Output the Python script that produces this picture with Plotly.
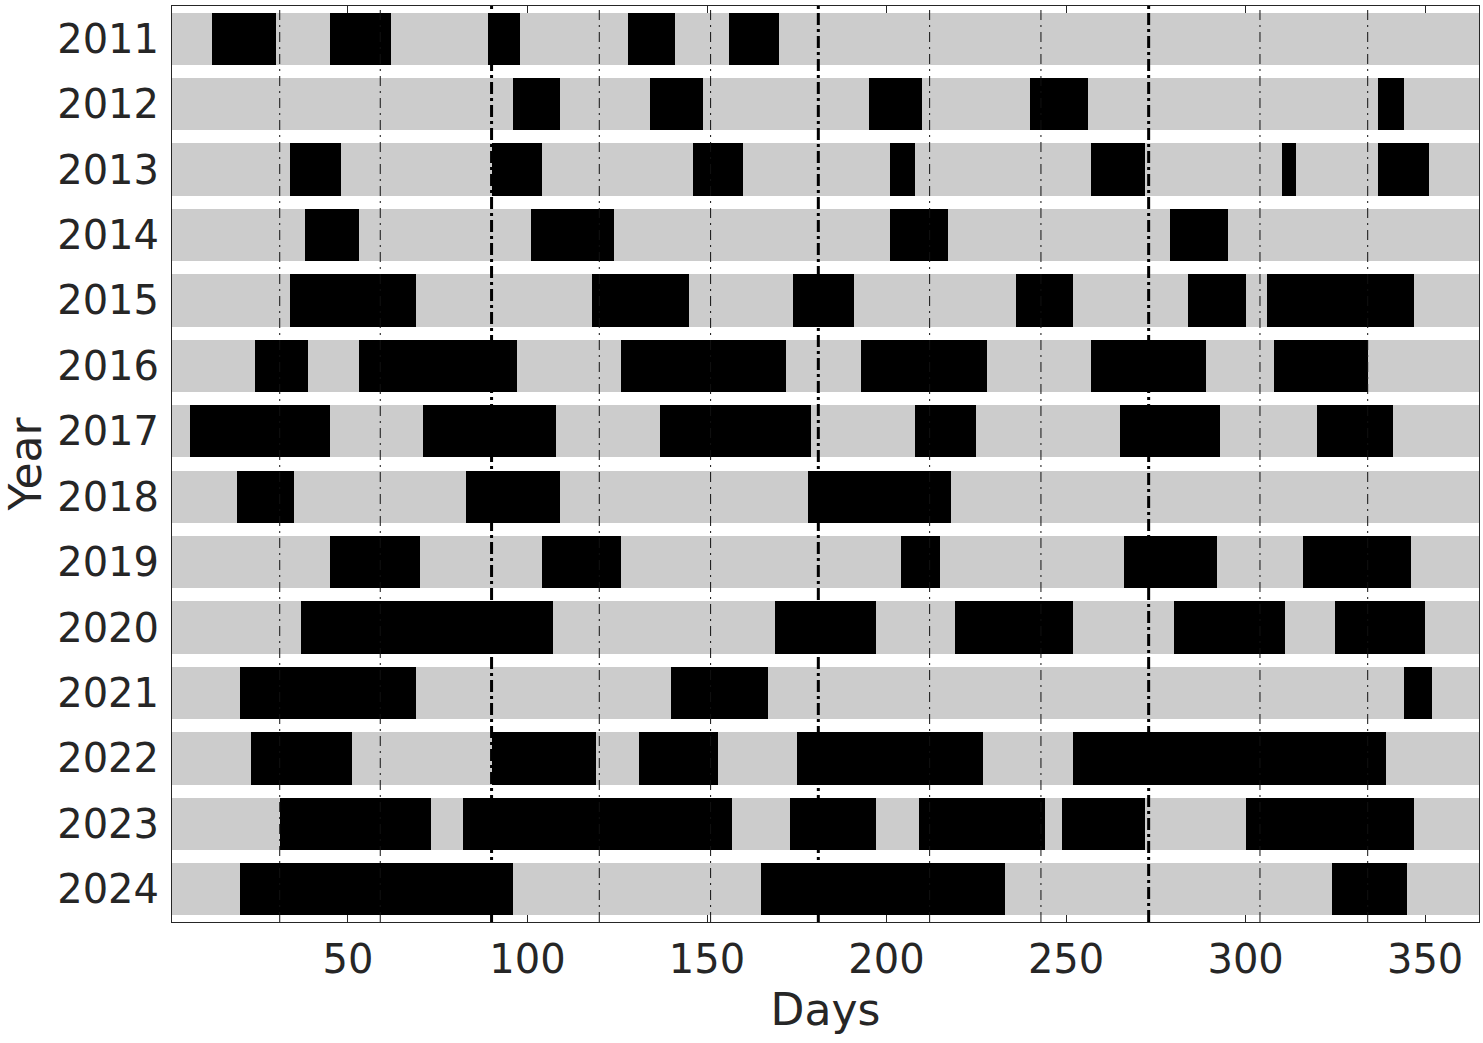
import plotly.graph_objects as go

# ---- data ----
years = [2011, 2012, 2013, 2014, 2015, 2016, 2017, 2018, 2019, 2020, 2021, 2022, 2023, 2024]

starts = [
    [12, 45, 89, 128, 156],
    [96, 134, 195, 240, 337],
    [34, 90, 146, 201, 257, 310, 337],
    [38, 101, 201, 279],
    [34, 118, 174, 236, 284, 306],
    [24, 53, 126, 193, 257, 308],
    [6, 71, 137, 208, 265, 320],
    [19, 83, 178],
    [45, 104, 204, 266, 316],
    [37, 169, 219, 280, 325],
    [20, 140, 344],
    [23, 90, 131, 175, 252],
    [31, 82, 173, 209, 249, 300],
    [20, 165, 324],
]
ends = [
    [30, 62, 98, 141, 170],
    [109, 149, 210, 256, 344],
    [48, 104, 160, 208, 272, 314, 351],
    [53, 124, 217, 295],
    [69, 145, 191, 252, 300, 347],
    [39, 97, 172, 228, 289, 334],
    [45, 108, 179, 225, 293, 341],
    [35, 109, 218],
    [70, 126, 215, 292, 346],
    [107, 197, 252, 311, 350],
    [69, 167, 352],
    [51, 119, 153, 227, 339],
    [73, 157, 197, 244, 272, 347],
    [96, 233, 345],
]

day_min, day_max = 1, 365
month_ends = [31, 59, 90, 120, 151, 181, 212, 243, 273, 304, 334]
quarter_ends = [90, 181, 273]
x_ticks = [50, 100, 150, 200, 250, 300, 350]

# ---- style ----
FONT = "DejaVu Sans"
TXT = "#262626"
GRAY = "#cccccc"

fig = go.Figure()

# background gray band per year
fig.add_trace(go.Bar(
    y=years,
    x=[day_max - day_min] * len(years),
    base=[day_min] * len(years),
    orientation="h",
    width=0.8,
    marker=dict(color=GRAY, line=dict(width=0)),
    showlegend=False,
    hoverinfo="skip",
))

# black event bars
ev_y, ev_base, ev_len = [], [], []
for yr, ss, ee in zip(years, starts, ends):
    for s, e in zip(ss, ee):
        ev_y.append(yr)
        ev_base.append(s)
        ev_len.append(e - s)

fig.add_trace(go.Bar(
    y=ev_y,
    x=ev_len,
    base=ev_base,
    orientation="h",
    width=0.8,
    marker=dict(color="#000000", line=dict(width=0)),
    showlegend=False,
))

# month boundary lines
for d in month_ends:
    if d in quarter_ends:
        fig.add_vline(x=d, line=dict(color="#000000", width=3, dash="12px,4px,3px,4px"), layer="above")
    else:
        fig.add_vline(x=d, line=dict(color="#111111", width=1, dash="10px,5px,2px,5px"), layer="above")

fig.update_layout(
    width=1483,
    height=1043,
    margin=dict(l=172, r=4, t=6, b=121),
    paper_bgcolor="white",
    plot_bgcolor="white",
    barmode="overlay",
    bargap=0,
    font=dict(family=FONT, size=40, color=TXT),
    showlegend=False,
)

fig.update_xaxes(
    automargin=False,
    range=[day_min, day_max],
    tickvals=x_ticks,
    ticktext=[str(v) for v in x_ticks],
    ticks="inside",
    ticklen=7,
    tickwidth=1,
    tickcolor=TXT,
    showline=True,
    linecolor=TXT,
    linewidth=1,
    mirror="ticks",
    showgrid=False,
    zeroline=False,
    tickfont=dict(family=FONT, size=40, color=TXT),
    ticklabelstandoff=2,
    title=dict(text="Days", font=dict(family=FONT, size=44, color=TXT), standoff=13),
)

fig.update_yaxes(
    automargin=False,
    range=[years[-1] + 0.5, years[0] - 0.5],
    tickvals=years,
    ticktext=[str(y) for y in years],
    ticks="",
    showline=True,
    linecolor=TXT,
    linewidth=1,
    mirror=True,
    showgrid=False,
    zeroline=False,
    tickfont=dict(family=FONT, size=40, color=TXT),
    ticklabelstandoff=4,
    title=dict(text="Year", font=dict(family=FONT, size=44, color=TXT), standoff=10),
)

fig.write_html(
    "out.html",
    config={"displayModeBar": False},
    post_script="document.body.style.margin='0';document.body.style.overflow='hidden';",
)
